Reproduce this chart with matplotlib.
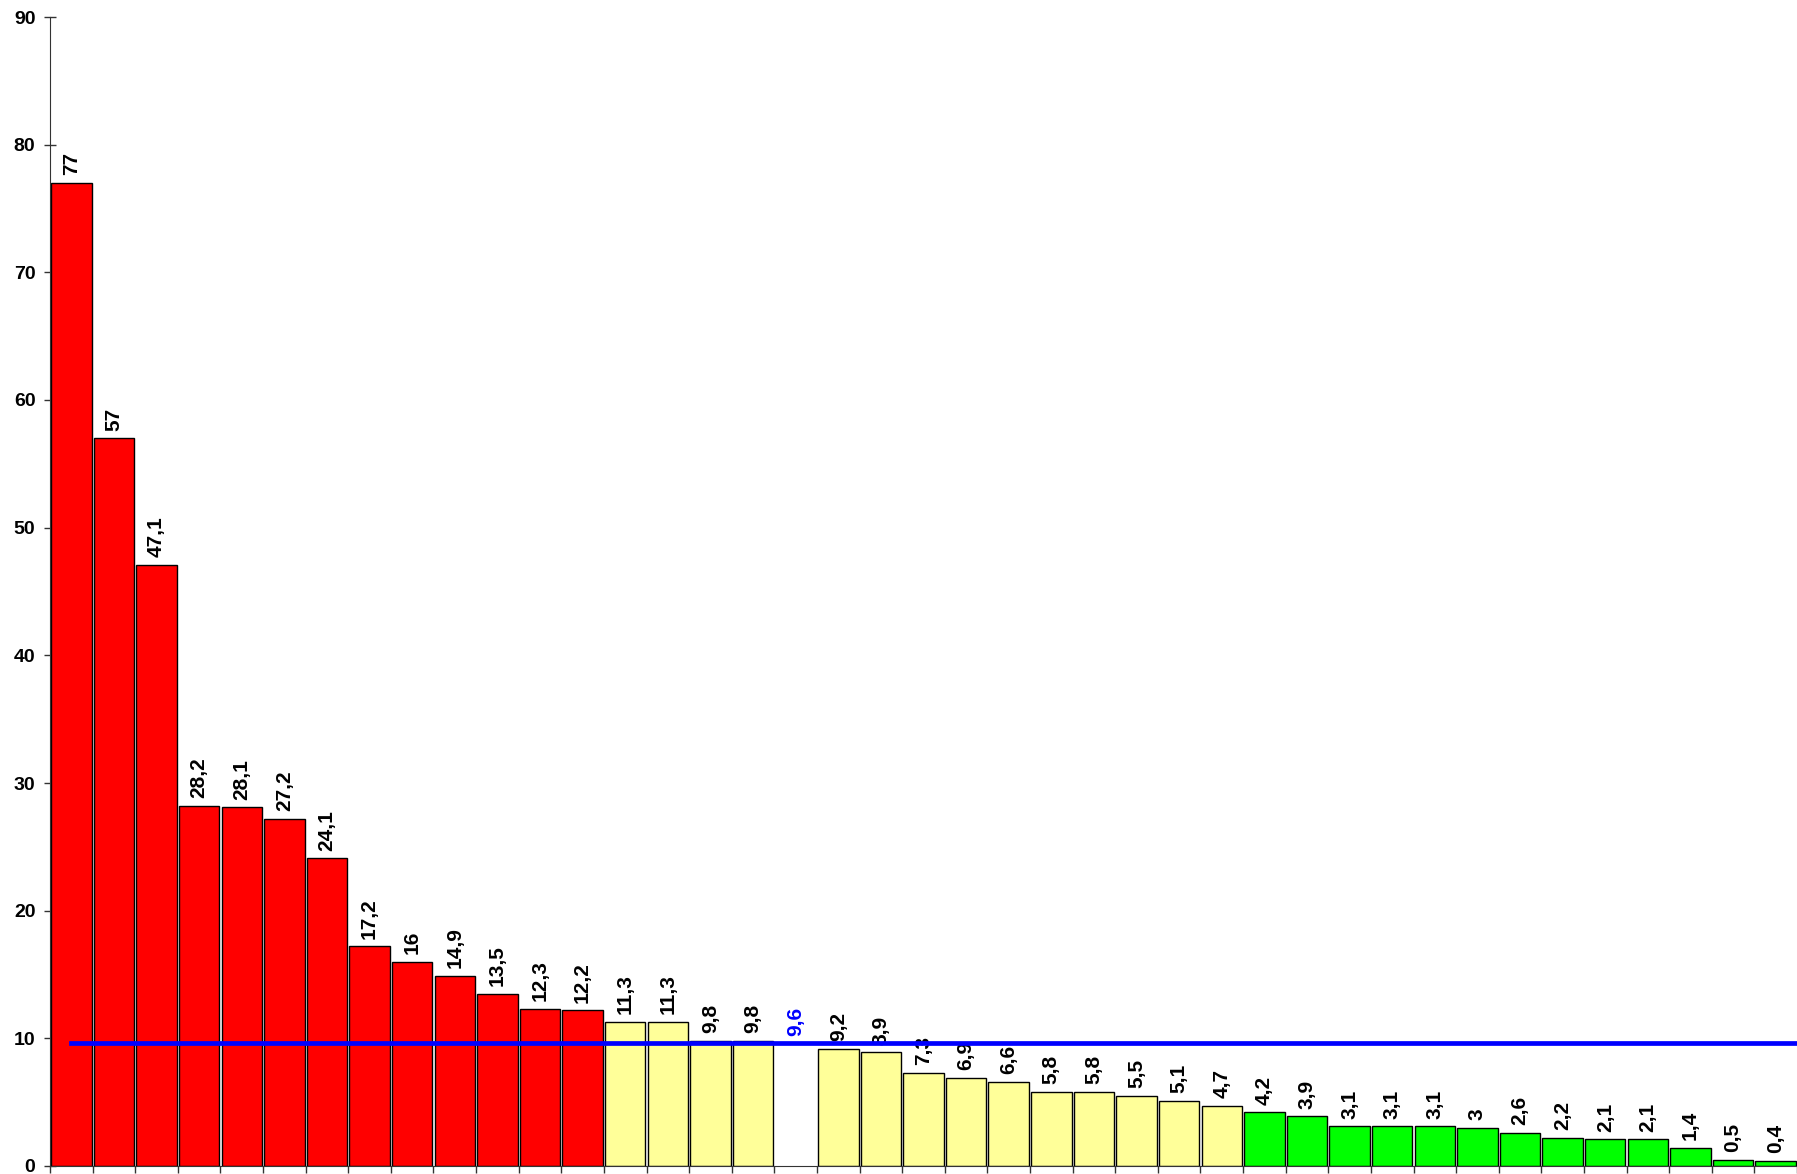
import matplotlib
matplotlib.use('Agg')
import matplotlib.pyplot as plt
import numpy as np

plt.rcParams['font.family'] = ['Liberation Sans', 'DejaVu Sans']

values = [77, 57, 47.1, 28.2, 28.1, 27.2, 24.1, 17.2, 16, 14.9, 13.5, 12.3, 12.2,
          11.3, 11.3, 9.8, 9.8, 9.6, 9.2, 8.9, 7.3, 6.9, 6.6, 5.8, 5.8, 5.5, 5.1, 4.7,
          4.2, 3.9, 3.1, 3.1, 3.1, 3, 2.6, 2.2, 2.1, 2.1, 1.4, 0.5, 0.4]
groups = ['r'] * 13 + ['y'] * 4 + ['w'] + ['y'] * 10 + ['g'] * 13
average = 9.6

col = {'r': '#FF0000', 'y': '#FFFF99', 'w': '#FFFFFF', 'g': '#00FF00'}

fig = plt.figure(figsize=(17.97, 11.74), dpi=100)
ax = fig.add_axes([50 / 1797, 8 / 1174, 1 - 50 / 1797, (1166 - 17) / 1174])

x = np.arange(len(values))
for i, v in enumerate(values):
    g = groups[i]
    ax.bar(x[i], v, width=0.95, color=col[g],
           edgecolor='white' if g == 'w' else 'black', linewidth=1.0, zorder=2)
    ax.annotate(str(v).replace('.', ','), (x[i], v), xytext=(0, 5.5),
                textcoords='offset points', rotation=90, ha='center', va='bottom',
                fontsize=15, fontweight='bold',
                color='#0000FF' if g == 'w' else 'black', zorder=3)

# average line
ax.plot([x[0], x[-1] + 0.5], [average, average], color='#0000FF', lw=3.4, zorder=5)

ax.set_xlim(-0.5, len(values) - 0.5)
ax.set_ylim(0, 90)
ax.set_yticks(range(0, 91, 10))
ax.set_xticks(np.arange(-0.5, len(values), 1.0))
ax.set_xticklabels([])
for lab in ax.get_yticklabels():
    lab.set_fontweight('bold')
    lab.set_fontsize(14)
ax.tick_params(axis='y', direction='inout', length=9, width=1, color='#333333', pad=6)
ax.tick_params(axis='x', direction='out', length=5, width=1, color='#333333')
ax.spines['top'].set_visible(False)
ax.spines['right'].set_visible(False)
ax.spines['left'].set_color('#333333')
ax.spines['bottom'].set_color('#333333')

fig.savefig('out.png', dpi=100)
